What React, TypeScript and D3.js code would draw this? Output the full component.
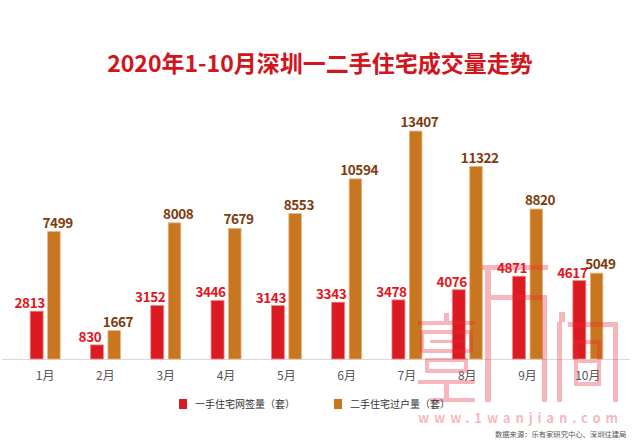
import React from "react";
import * as d3 from "d3";

const months = ["1月", "2月", "3月", "4月", "5月", "6月", "7月", "8月", "9月", "10月"];
const newHome = [2813, 830, 3152, 3446, 3143, 3343, 3478, 4076, 4871, 4617];
const resale = [7499, 1667, 8008, 7679, 8553, 10594, 13407, 11322, 8820, 5049];
const seriesNames = ["一手住宅网签量（套）", "二手住宅过户量（套）"];
const title = "2020年1-10月深圳一二手住宅成交量走势";
const source = "数据来源：乐有家研究中心、深圳住建局";

const W = 640;
const H = 448;
const RED = "#db1a22";
const ORANGE = "#c8761f";
const RED_TXT = "#e3141c";
const ORANGE_TXT = "#7e3a0c";
const FONT = "'Microsoft YaHei','Noto Sans CJK SC','Noto Sans',sans-serif";
const PINK = "rgba(232,40,60,0.34)";

const x = d3.scaleBand<string>().domain(months).range([15, 618]).padding(0);
const y = d3.scaleLinear().domain([0, 14000]).range([359, 121]);

function Watermark() {
  const r = (x0: number, y0: number, x1: number, y1: number, k: string) => (
    <rect key={k} x={x0} y={y0} width={x1 - x0} height={y1 - y0} fill={PINK} />
  );
  const box = (x0: number, y0: number, x1: number, y1: number, k: string) => (
    <rect key={k} x={x0 + 2} y={y0 + 2} width={x1 - x0 - 4} height={y1 - y0 - 4} fill="none" stroke={PINK} strokeWidth={4} />
  );
  return (
    <g>
      {r(444, 313, 449, 321, "a1")}
      {r(418, 321, 475, 325, "a2")}
      {box(420, 330, 473, 353, "a3")}
      {r(430, 340, 465, 343, "a4")}
      {box(425, 358, 468, 373, "a5")}
      {r(418, 380, 475, 384, "a6")}
      {r(444, 384, 449, 398, "a7")}
      {r(430, 398, 475, 402, "a8")}
      {r(482, 265, 548, 270, "b1")}
      {r(485, 270, 491, 402, "b2")}
      {r(491, 295, 542, 300, "b3")}
      {r(542, 295, 547, 402, "b4")}
      {r(559, 312, 565, 322, "c0")}
      {r(557, 322, 562, 402, "c1")}
      {r(568, 322, 618, 327, "c2")}
      {r(613, 327, 618, 402, "c3")}
      {box(574, 340, 601, 386, "c4")}
      {r(578, 360, 597, 363, "c5")}
      <text x={418} y={423} textLength={200} lengthAdjust="spacing" fontFamily={FONT} fontWeight="bold" fontSize={13} fill={PINK}>
        www.1wanjian.com
      </text>
    </g>
  );
}

export default function App() {
  const bw = 13;
  const lf = 13.5;
  return (
    <svg width={W} height={H} style={{ position: "absolute", left: 0, top: 0, background: "#fff" }}>
      <rect x={0} y={0} width={W} height={H} fill="#fff" />
      <text x={320} y={72} textAnchor="middle" fontFamily={FONT} fontWeight="bold" fontSize={23} fill="#d2141c">
        {title}
      </text>
      <line x1={2} x2={630} y1={359.5} y2={359.5} stroke="#d9d9d9" strokeWidth={1} />
      {months.map((m, i) => {
        const c = (x(m) as number) + x.bandwidth() / 2;
        const rx = c - 15;
        const ox = c + 2.5;
        return (
          <g key={m}>
            <rect x={rx} y={y(newHome[i])} width={bw} height={y(0) - y(newHome[i])} fill={RED} stroke="#f08a8e" strokeWidth={0.8} />
            <rect x={ox} y={y(resale[i])} width={bw - 0.5} height={y(0) - y(resale[i])} fill={ORANGE} stroke="#e7b27a" strokeWidth={0.8} />
            <text x={c - 15.5} y={y(newHome[i]) - 3} textAnchor="middle" fontFamily={FONT} fontWeight="bold" fontSize={lf} letterSpacing={-0.4} fill={RED_TXT}>
              {newHome[i]}
            </text>
            <text x={c + 12.5} y={y(resale[i]) - 4} textAnchor="middle" fontFamily={FONT} fontWeight="bold" fontSize={lf} letterSpacing={-0.4} fill={ORANGE_TXT}>
              {resale[i]}
            </text>
            <text x={c} y={380} textAnchor="middle" fontFamily={FONT} fontSize={12} fill="#555">
              {m}
            </text>
          </g>
        );
      })}
      <Watermark />
      <rect x={179} y={399} width={8} height={10} fill={RED} />
      <text x={195} y={408} fontFamily={FONT} fontSize={10} fill="#333">{seriesNames[0]}</text>
      <rect x={334} y={399} width={8} height={10} fill={ORANGE} />
      <text x={350} y={408} fontFamily={FONT} fontSize={10} fill="#333">{seriesNames[1]}</text>
      <text x={495} y={437} fontFamily={FONT} fontSize={7.3} fill="#555">{source}</text>
    </svg>
  );
}
